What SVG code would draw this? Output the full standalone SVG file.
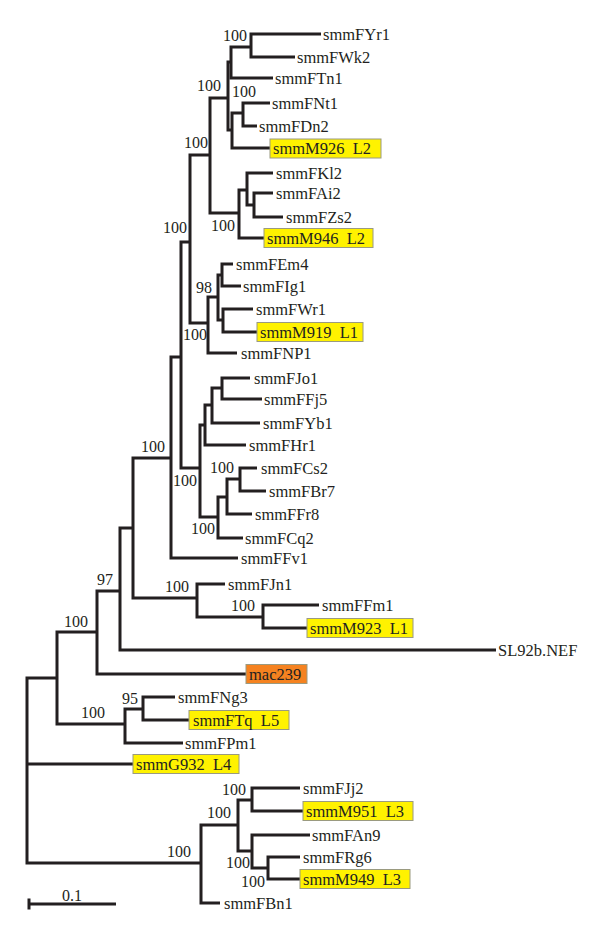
<svg xmlns="http://www.w3.org/2000/svg" width="600" height="926" viewBox="0 0 600 926">
<style>
.br{fill:none;stroke:#231f20;stroke-width:3;stroke-linejoin:miter;stroke-linecap:butt}
text{font-family:"Liberation Serif","Times New Roman",serif;fill:#231f20}
.lf{font-size:16.5px}
.bs{font-size:16px}
.hl{fill:#FFF200;stroke:#9a9a80;stroke-width:1}
.or{fill:#F58220;stroke:#9a9a80;stroke-width:1}
</style>
<rect width="600" height="926" fill="#fff"/>
<g id="connectors">
<path class="br" d="M57,678H27V863H201M27,764H133"/>
<path class="br" d="M97,632H57V724H125"/>
<path class="br" d="M120,591H97V674H246"/>
<path class="br" d="M133,528H120V650H496"/>
<path class="br" d="M171,458H133V598H197"/>
<path class="br" d="M181,357H171V558H238"/>
<path class="br" d="M190,242H181V468H200"/>
<path class="br" d="M210,155H190V323H208"/>
<path class="br" d="M228,98H210V213H239"/>
<path class="br" d="M231,62H228V130H232"/>
<path class="br" d="M251,47H231V78H273"/>
<path class="br" d="M321,34H251V57H295"/>
<path class="br" d="M243,113H232V148H270"/>
<path class="br" d="M270,103H243V126H257"/>
<path class="br" d="M247,190H239V238H264"/>
<path class="br" d="M273,173H247V205H254"/>
<path class="br" d="M273,193H254V217H283"/>
<path class="br" d="M218,297H208V353H237"/>
<path class="br" d="M222,275H218V320H223"/>
<path class="br" d="M233,264H222V286H241"/>
<path class="br" d="M253,309H223V332H257"/>
<path class="br" d="M205,425H200V517H218"/>
<path class="br" d="M212,405H205V445H246"/>
<path class="br" d="M222,388H212V423H260"/>
<path class="br" d="M250,378H222V399H262"/>
<path class="br" d="M227,497H218V538H243"/>
<path class="br" d="M240,479H227V514H252"/>
<path class="br" d="M257,468H240V491H266"/>
<path class="br" d="M225,584H197V617H263"/>
<path class="br" d="M319,605H263V628H307"/>
<path class="br" d="M143,709H125V743H183"/>
<path class="br" d="M175,697H143V720H189"/>
<path class="br" d="M238,825H201V903H220"/>
<path class="br" d="M252,800H238V851H252"/>
<path class="br" d="M300,788H252V811H303"/>
<path class="br" d="M310,835H252V868H268"/>
<path class="br" d="M300,857H268V879H300"/>
</g>
<g id="leaves" class="lf">
<g id="smmFYr1"><text x="323" y="39.5">smmFYr1</text></g>
<g id="smmFWk2"><text x="297" y="62.5">smmFWk2</text></g>
<g id="smmFTn1"><text x="275" y="83.5">smmFTn1</text></g>
<g id="smmFNt1"><text x="272" y="108.5">smmFNt1</text></g>
<g id="smmFDn2"><text x="259" y="131.5">smmFDn2</text></g>
<g id="smmM926"><rect class="hl" x="270" y="139" width="111" height="19"/><text x="273" y="153.5" xml:space="preserve">smmM926  L2</text></g>
<g id="smmFKl2"><text x="276" y="178.5">smmFKl2</text></g>
<g id="smmFAi2"><text x="276" y="198.5">smmFAi2</text></g>
<g id="smmFZs2"><text x="286" y="222.5">smmFZs2</text></g>
<g id="smmM946"><rect class="hl" x="264" y="228.5" width="109" height="19"/><text x="267" y="243.5" xml:space="preserve">smmM946  L2</text></g>
<g id="smmFEm4"><text x="236" y="269.5">smmFEm4</text></g>
<g id="smmFIg1"><text x="243" y="291.5">smmFIg1</text></g>
<g id="smmFWr1"><text x="256" y="314.5">smmFWr1</text></g>
<g id="smmM919"><rect class="hl" x="257" y="322.5" width="106" height="19"/><text x="260" y="337.5" xml:space="preserve">smmM919  L1</text></g>
<g id="smmFNP1"><text x="241" y="358.5">smmFNP1</text></g>
<g id="smmFJo1"><text x="254" y="383.5">smmFJo1</text></g>
<g id="smmFFj5"><text x="264" y="404.5">smmFFj5</text></g>
<g id="smmFYb1"><text x="263" y="428.5">smmFYb1</text></g>
<g id="smmFHr1"><text x="249" y="450.5">smmFHr1</text></g>
<g id="smmFCs2"><text x="261" y="473.5">smmFCs2</text></g>
<g id="smmFBr7"><text x="269" y="496.5">smmFBr7</text></g>
<g id="smmFFr8"><text x="255" y="519.5">smmFFr8</text></g>
<g id="smmFCq2"><text x="245" y="543.5">smmFCq2</text></g>
<g id="smmFFv1"><text x="241" y="563.5">smmFFv1</text></g>
<g id="smmFJn1"><text x="228" y="589.5">smmFJn1</text></g>
<g id="smmFFm1"><text x="322" y="610.5">smmFFm1</text></g>
<g id="smmM923"><rect class="hl" x="307" y="618.5" width="106" height="19"/><text x="310" y="633.5" xml:space="preserve">smmM923  L1</text></g>
<g id="SL92b"><text x="498" y="655.5">SL92b.NEF</text></g>
<g id="mac239"><rect class="or" x="246" y="664.5" width="61" height="19"/><text x="249" y="679.5">mac239</text></g>
<g id="smmFNg3"><text x="178" y="702.5">smmFNg3</text></g>
<g id="smmFTq"><rect class="hl" x="189" y="710.5" width="100" height="19"/><text x="193" y="725.5" xml:space="preserve">smmFTq  L5</text></g>
<g id="smmFPm1"><text x="185" y="748.5">smmFPm1</text></g>
<g id="smmG932"><rect class="hl" x="133" y="754.5" width="106" height="19"/><text x="136" y="769.5" xml:space="preserve">smmG932  L4</text></g>
<g id="smmFJj2"><text x="303" y="793.5">smmFJj2</text></g>
<g id="smmM951"><rect class="hl" x="303" y="801.5" width="110" height="19"/><text x="306" y="816.5" xml:space="preserve">smmM951  L3</text></g>
<g id="smmFAn9"><text x="312" y="840.5">smmFAn9</text></g>
<g id="smmFRg6"><text x="303" y="862.5">smmFRg6</text></g>
<g id="smmM949"><rect class="hl" x="300" y="869.5" width="110" height="19"/><text x="303" y="884.5" xml:space="preserve">smmM949  L3</text></g>
<g id="smmFBn1"><text x="224" y="908.5">smmFBn1</text></g>
</g>
<g id="bootstrap" class="bs">
<text x="223" y="41">100</text>
<text x="197" y="91">100</text>
<text x="232" y="97">100</text>
<text x="184" y="148">100</text>
<text x="163" y="233">100</text>
<text x="211" y="231">100</text>
<text x="196" y="293">98</text>
<text x="183" y="340">100</text>
<text x="141" y="452">100</text>
<text x="210" y="473">100</text>
<text x="173" y="486">100</text>
<text x="191" y="534">100</text>
<text x="97" y="585">97</text>
<text x="165" y="592">100</text>
<text x="231" y="611">100</text>
<text x="64" y="627">100</text>
<text x="122" y="704">95</text>
<text x="81" y="718">100</text>
<text x="222" y="795">100</text>
<text x="207" y="818">100</text>
<text x="167" y="857">100</text>
<text x="226" y="868">100</text>
<text x="241" y="887">100</text>
</g>
<g id="scalebar">
<path class="br" d="M29,904H116M29,898.5V909.5"/>
<text class="bs" x="62" y="901">0.1</text>
</g>
</svg>
